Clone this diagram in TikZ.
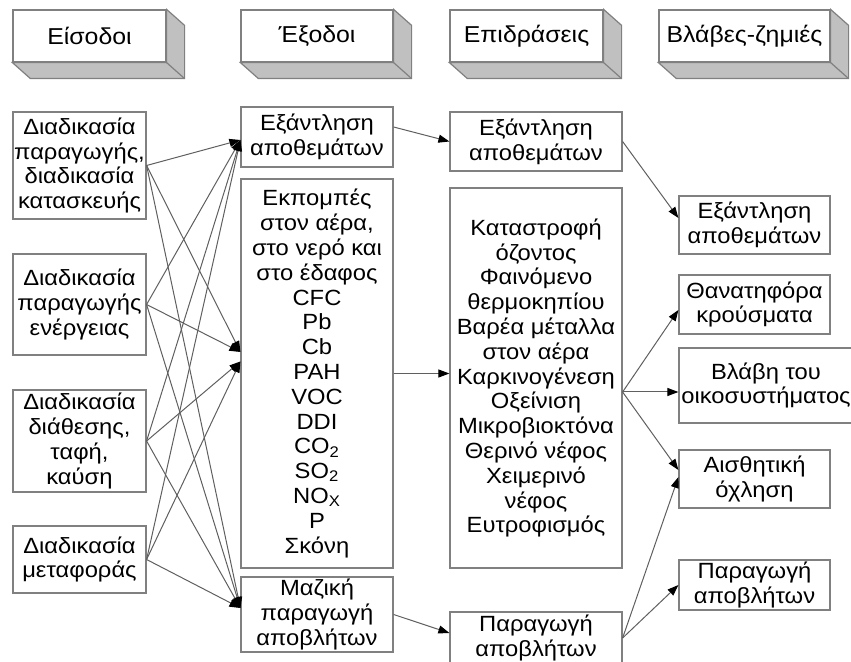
\documentclass[tikz,border=0pt]{standalone}
\usepackage{fontspec}
\setmainfont{Liberation Sans}[FakeStretch=1.08]
\usepackage{tikz}
\usetikzlibrary{arrows.meta,calc}
\definecolor{edgegray}{RGB}{128,128,128}
\definecolor{sidegray}{RGB}{192,192,192}
\definecolor{linegray}{RGB}{95,95,95}

\begin{document}
\begin{tikzpicture}[x=0.5pt,y=-0.5pt,
  box/.style={draw=edgegray,line width=0.6pt,fill=white,align=center,inner sep=0pt,
    font=\fontsize{11}{12.4}\selectfont},
  head/.style={box,font=\fontsize{11.5}{14}\selectfont,minimum height=26pt},
  side/.style={fill=sidegray,draw=edgegray,line width=0.6pt},
  arr/.style={draw=linegray,line width=0.5pt,-{Triangle[length=5.5pt,width=4pt,color=black]}}]
  \useasboundingbox (0,0) rectangle (851,662);

  % column heads
  \node[head,minimum width=76.5pt] (hIn)  at (89.5,36)  {Είσοδοι};
  \node[head,minimum width=76pt]   (hOut) at (317,36)   {Έξοδοι};
  \node[head,minimum width=76.5pt] (hEff) at (526.5,36) {Επιδράσεις};
  \node[head,minimum width=85.5pt] (hDam) at (744.5,36) {Βλάβες-ζημιές};
  \foreach \n in {hIn,hOut,hEff,hDam}
  {
    \filldraw[side] (\n.south west) -- ++(18,16) -- ($(\n.south east)+(18,16)$)
      -- ($(\n.north east)+(18,16)$) -- (\n.north east) -- (\n.south east) -- cycle;
    \draw[edgegray,line width=0.6pt] (\n.south east) -- ++(18,16);
  }

  % inputs
  \node[box,minimum width=66.5pt,minimum height=53.5pt] (iProd)   at (79.5,165.5)
    {Διαδικασία\\παραγωγής,\\διαδικασία\\κατασκευής};
  \node[box,minimum width=66.5pt,minimum height=50.5pt] (iEnergy) at (79.5,304.5)
    {Διαδικασία\\παραγωγής\\ενέργειας};
  \node[box,minimum width=66.5pt,minimum height=51pt]   (iDisp)   at (79.5,441)
    {Διαδικασία\\διάθεσης,\\ταφή,\\καύση};
  \node[box,minimum width=66.5pt,minimum height=33.5pt] (iTrans)  at (79.5,559.5)
    {Διαδικασία\\μεταφοράς};

  % outputs
  \node[box,minimum width=76pt,minimum height=30pt]    (oDep)   at (317,137)
    {Εξάντληση\\αποθεμάτων};
  \node[box,minimum width=76pt,minimum height=194.5pt] (oEm)    at (317,373.5)
    {Εκπομπές\\στον αέρα,\\στο νερό και\\στο έδαφος\\CFC\\Pb\\Cb\\PAH\\VOC\\DDI\\
     CO\textsubscript{2}\\SO\textsubscript{2}\\NO\textsubscript{X}\\P\\Σκόνη};
  \node[box,minimum width=76pt,minimum height=37.5pt]  (oWaste) at (317,614.5)
    {Μαζική\\παραγωγή\\αποβλήτων};

  % effects
  \node[box,minimum width=86pt,minimum height=29.5pt] (eDep)   at (536,141.5)
    {Εξάντληση\\αποθεμάτων};
  \node[box,minimum width=86pt,minimum height=190pt]  (eEff)   at (536,378)
    {Καταστροφή\\όζοντος\\Φαινόμενο\\θερμοκηπίου\\Βαρέα μέταλλα\\στον αέρα\\Καρκινογένεση\\
     Οξείνιση\\Μικροβιοκτόνα\\Θερινό νέφος\\Χειμερινό\\νέφος\\Ευτροφισμός};
  \node[box,minimum width=86pt,minimum height=26pt]   (eWaste) at (536,638)
    {Παραγωγή\\αποβλήτων};

  % damages
  \node[box,minimum width=75.5pt,minimum height=29pt]   (dDep)   at (754.5,225)
    {Εξάντληση\\αποθεμάτων};
  \node[box,minimum width=75.5pt,minimum height=29.5pt] (dDeath) at (754.5,304.5)
    {Θανατηφόρα\\κρούσματα};
  \node[box,minimum width=87pt,minimum height=37.5pt]   (dEco)   at (766,385.5)
    {Βλάβη του\\οικοσυστήματος};
  \node[box,minimum width=75.5pt,minimum height=29pt]   (dNuis)  at (754.5,479)
    {Αισθητική\\όχληση};
  \node[box,minimum width=75.5pt,minimum height=25pt]   (dProd)  at (754.5,585)
    {Παραγωγή\\αποβλήτων};

  % inputs -> outputs
  \foreach \s in {iProd,iEnergy,iDisp,iTrans}
  {
    \draw[arr] (\s.east) -- ([yshift=-1.5pt]oDep.west);
    \draw[arr] (\s.east) -- ([yshift=3.25pt]oWaste.west);
  }
  \foreach \s/\dy in {iProd/10.75pt,iEnergy/10.75pt,iDisp/6pt,iTrans/6pt}
    \draw[arr] (\s.east) -- ([yshift=\dy]oEm.west);

  % outputs -> effects
  \draw[arr] ([yshift=5pt]oDep.east) -- (eDep.west);
  \draw[arr] (oEm.east) -- (oEm.east -| eEff.west);
  \draw[arr] (oWaste.east) -- ([yshift=2.5pt]eWaste.west);

  % effects -> damages
  \draw[arr] (eDep.east) -- ([yshift=3.5pt]dDep.west);
  \draw[arr] ([yshift=-7pt]eEff.east) -- ([yshift=-2.75pt]dDeath.west);
  \draw[arr] ([yshift=-7pt]eEff.east) -- ([yshift=-7pt]eEff.east -| dEco.west);
  \draw[arr] ([yshift=-7pt]eEff.east) -- ([yshift=4.5pt]dNuis.west);
  \draw[arr] (eWaste.east) -- ([yshift=1pt]dNuis.west);
  \draw[arr] (eWaste.east) -- (dProd.west);
\end{tikzpicture}
\end{document}
